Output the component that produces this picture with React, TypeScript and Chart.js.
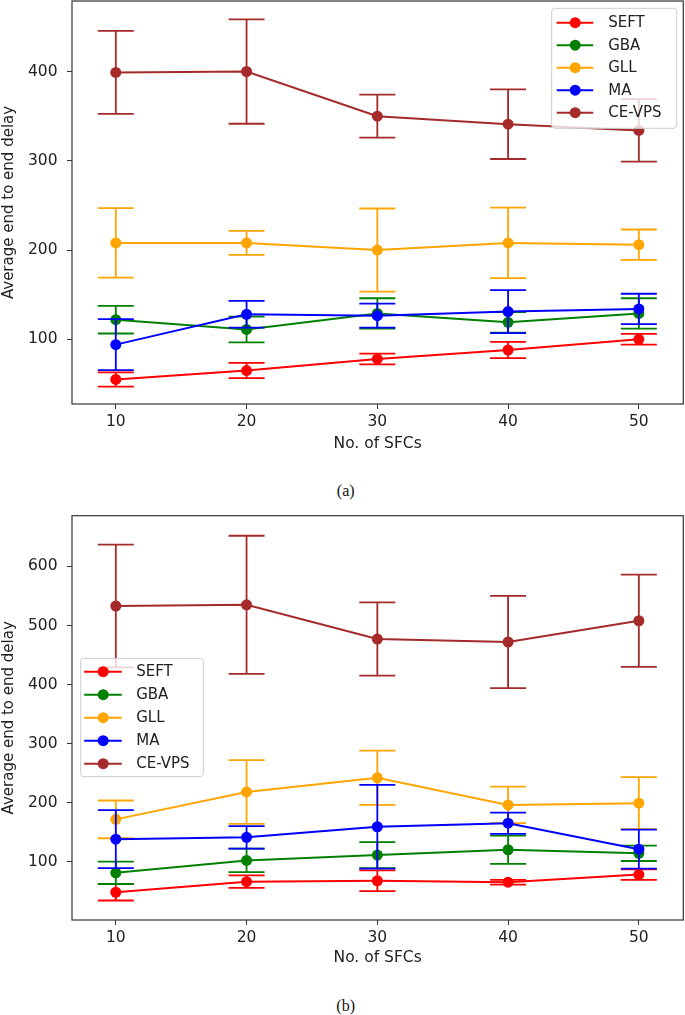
import React, { useEffect, useRef } from "react";
import { Chart, registerables } from "chart.js";

Chart.register(...registerables);

// ---------- data ----------
const sfcCounts = [10, 20, 30, 40, 50];
const seriesNames = ["SEFT", "GBA", "GLL", "MA", "CE-VPS"];
const seriesColors = ["#ff0000", "#008000", "#ffa500", "#0000ff", "#a52a2a"];

const xTickValues = [10, 20, 30, 40, 50];
const yTicksA = [100, 200, 300, 400];
const yTicksB = [100, 200, 300, 400, 500, 600];

// panel (a)
const seftA = [55, 65, 78, 88, 100];
const seftErrA = [8, 8.5, 6, 9, 6];
const gbaA = [122, 111, 129, 119, 129];
const gbaErrA = [15.5, 14.5, 17, 11.5, 17];
const gllA = [208, 208, 200, 208, 206];
const gllErrA = [39, 13.5, 46.5, 39.5, 17];
const maA = [94, 128, 126.5, 131, 134];
const maErrA = [28.5, 15, 13.5, 24, 17];
const cevpsA = [399, 400, 350, 341, 334];
const cevpsErrA = [46.5, 58.5, 24, 39, 35];

// panel (b)
const seftB = [48, 66, 67.5, 65, 78];
const seftErrB = [14, 10.5, 17.5, 4, 9];
const gbaB = [81, 102, 111, 120, 114];
const gbaErrB = [19, 20, 22, 24, 13];
const gllB = [171.5, 218, 242, 196, 199];
const gllErrB = [32, 54, 46, 31, 44];
const maB = [138, 141, 159, 165, 121];
const maErrB = [49, 19, 71, 18, 33];
const cevpsB = [533, 535, 477, 472, 508];
const cevpsErrB = [104, 117, 62, 78, 78];

const xTitle = "No. of SFCs";
const yTitle = "Average end to end delay";

// ---------- plugins ----------
const errorBarPlugin = {
  id: "errorBars",
  beforeDatasetDraw(chart: any, args: any, opts: any) {
    const ds = chart.data.datasets[args.index];
    const errs: number[] = ds.errors || [];
    const xs = chart.scales.x;
    const ys = chart.scales.y;
    const ctx = chart.ctx;
    const area = chart.chartArea;
    ctx.save();
    ctx.beginPath();
    ctx.rect(area.left, area.top, area.right - area.left, area.bottom - area.top);
    ctx.clip();
    ctx.strokeStyle = ds.borderColor;
    ctx.lineWidth = opts.lineWidth;
    ds.data.forEach((p: any, j: number) => {
      const e = errs[j];
      const px = xs.getPixelForValue(p.x);
      const top = ys.getPixelForValue(p.y + e);
      const bot = ys.getPixelForValue(p.y - e);
      ctx.beginPath();
      ctx.moveTo(px, top);
      ctx.lineTo(px, bot);
      ctx.moveTo(px - opts.capHalf, top);
      ctx.lineTo(px + opts.capHalf, top);
      ctx.moveTo(px - opts.capHalf, bot);
      ctx.lineTo(px + opts.capHalf, bot);
      ctx.stroke();
    });
    ctx.restore();
  },
};

const framePlugin = {
  id: "frame",
  afterDatasetsDraw(chart: any, _args: any, opts: any) {
    const { left, top, right, bottom } = chart.chartArea;
    const ctx = chart.ctx;
    ctx.save();
    ctx.strokeStyle = opts.color;
    ctx.lineWidth = opts.lineWidth;
    ctx.strokeRect(left, top, right - left, bottom - top);
    ctx.restore();
  },
};

const boxLegendPlugin = {
  id: "boxLegend",
  afterDraw(chart: any, _args: any, o: any) {
    const ctx = chart.ctx;
    ctx.save();
    const r = 3;
    const { left, top, width, height } = o;
    ctx.beginPath();
    ctx.moveTo(left + r, top);
    ctx.lineTo(left + width - r, top);
    ctx.arcTo(left + width, top, left + width, top + r, r);
    ctx.lineTo(left + width, top + height - r);
    ctx.arcTo(left + width, top + height, left + width - r, top + height, r);
    ctx.lineTo(left + r, top + height);
    ctx.arcTo(left, top + height, left, top + height - r, r);
    ctx.lineTo(left, top + r);
    ctx.arcTo(left, top, left + r, top, r);
    ctx.closePath();
    ctx.fillStyle = "rgba(255,255,255,0.8)";
    ctx.fill();
    ctx.strokeStyle = "#cccccc";
    ctx.lineWidth = 1;
    ctx.stroke();
    ctx.font = `${o.fontSize}px "DejaVu Sans", sans-serif`;
    ctx.textBaseline = "middle";
    ctx.textAlign = "left";
    chart.data.datasets.forEach((ds: any, i: number) => {
      const y = top + o.firstRow + i * o.rowGap;
      ctx.strokeStyle = ds.borderColor;
      ctx.lineWidth = 2;
      ctx.beginPath();
      ctx.moveTo(left + o.lineX0, y);
      ctx.lineTo(left + o.lineX1, y);
      ctx.stroke();
      ctx.fillStyle = ds.borderColor;
      ctx.beginPath();
      ctx.arc(left + o.markerX, y, 5.5, 0, Math.PI * 2);
      ctx.fill();
      ctx.fillStyle = "#222";
      ctx.fillText(ds.label, left + o.textX, y + 0.5);
    });
    ctx.restore();
  },
};

// ---------- chart builder ----------
const FONT = '"DejaVu Sans", sans-serif';

function buildConfig(means: number[][], errs: number[][], yTicks: number[], yMin: number, yMax: number, L: any) {
  return {
    type: "line",
    data: {
      datasets: seriesNames.map((name, i) => ({
        label: name,
        data: sfcCounts.map((x, j) => ({ x, y: means[i][j] })),
        errors: errs[i],
        borderColor: seriesColors[i],
        backgroundColor: seriesColors[i],
        pointBackgroundColor: seriesColors[i],
        pointBorderColor: seriesColors[i],
        pointBorderWidth: 0,
        pointRadius: 5.5,
        borderWidth: 2,
        tension: 0,
        fill: false,
        order: seriesNames.length - 1 - i,
      })),
    },
    options: {
      animation: false,
      responsive: false,
      events: [],
      layout: { autoPadding: false, padding: { top: L.padTop, right: 1.7, left: 0, bottom: 0 } },
      scales: {
        x: {
          type: "linear",
          min: 6.65,
          max: 53.4,
          afterBuildTicks: (s: any) => {
            s.ticks = xTickValues.map((v) => ({ value: v }));
          },
          afterFit: (s: any) => {
            s.height = L.xAxisHeight;
            s.paddingLeft = 0;
            s.paddingRight = 0;
            s.paddingTop = 0;
            s.paddingBottom = 0;
          },
          grid: { drawOnChartArea: false, drawTicks: true, tickLength: 5, color: "#333", lineWidth: 1 },
          border: { display: false },
          ticks: { font: { family: FONT, size: 15.5 }, color: "#222", padding: 4, maxRotation: 0, autoSkip: false },
          title: {
            display: true,
            text: xTitle,
            font: { family: FONT, size: 15.5 },
            color: "#222",
            padding: { top: 0, bottom: L.xTitlePad },
          },
        },
        y: {
          type: "linear",
          min: yMin,
          max: yMax,
          afterBuildTicks: (s: any) => {
            s.ticks = yTicks.map((v) => ({ value: v }));
          },
          afterFit: (s: any) => {
            s.width = 72;
            s.paddingLeft = 0;
            s.paddingRight = 0;
            s.paddingTop = 0;
            s.paddingBottom = 0;
          },
          grid: { drawOnChartArea: false, drawTicks: true, tickLength: 5, color: "#333", lineWidth: 1 },
          border: { display: false },
          ticks: { font: { family: FONT, size: 15.5 }, color: "#222", padding: 9.5 },
          title: {
            display: true,
            text: yTitle,
            font: { family: FONT, size: 15 },
            color: "#222",
            padding: { top: 0, bottom: 0 },
          },
        },
      },
      plugins: {
        legend: { display: false },
        tooltip: { enabled: false },
        errorBars: { capHalf: 18, lineWidth: 1.8 },
        frame: { color: "#333", lineWidth: 1.2 },
        boxLegend: L.legend,
      },
    },
    plugins: [errorBarPlugin, framePlugin, boxLegendPlugin],
  };
}

const layoutA = {
  top: 0,
  height: 462,
  padTop: 1,
  xAxisHeight: 58,
  xTitlePad: 8.5,
  legend: { left: 551.7, top: 8.3, width: 125, height: 120, firstRow: 14.4, rowGap: 22.5, lineX0: 5, lineX1: 41.5, markerX: 23.5, textX: 56.5, fontSize: 15 },
};

const layoutB = {
  top: 500,
  height: 470,
  padTop: 15.7,
  xAxisHeight: 50,
  xTitlePad: 2.5,
  legend: { left: 80.7, top: 158.3, width: 122.6, height: 118.4, firstRow: 13.4, rowGap: 23, lineX0: 3.5, lineX1: 41, markerX: 22.5, textX: 55.5, fontSize: 15 },
};

function ChartPanel({ config, layout }: { config: any; layout: any }) {
  const ref = useRef<HTMLCanvasElement>(null);
  useEffect(() => {
    const chart = new Chart(ref.current as HTMLCanvasElement, config);
    return () => chart.destroy();
  }, []);
  return (
    <div style={{ position: "absolute", left: 0, top: layout.top, width: 685, height: layout.height }}>
      <canvas ref={ref} width={685} height={layout.height} style={{ display: "block" }} />
    </div>
  );
}

const captionStyle = (cy: number): React.CSSProperties => ({
  position: "absolute",
  left: 345.7,
  top: cy,
  transform: "translate(-50%, -50%)",
  fontFamily: '"Liberation Serif", serif',
  fontSize: 16,
  lineHeight: 1,
  color: "#111",
  whiteSpace: "nowrap",
});

export default function App() {
  const configA = buildConfig(
    [seftA, gbaA, gllA, maA, cevpsA],
    [seftErrA, gbaErrA, gllErrA, maErrA, cevpsErrA],
    yTicksA,
    27.5,
    479,
    layoutA
  );
  const configB = buildConfig(
    [seftB, gbaB, gllB, maB, cevpsB],
    [seftErrB, gbaErrB, gllErrB, maErrB, cevpsErrB],
    yTicksB,
    1,
    686,
    layoutB
  );
  return (
    <div style={{ position: "absolute", left: 0, top: 0, width: 685, height: 1015, overflow: "hidden", background: "#fff" }}>
      <ChartPanel config={configA} layout={layoutA} />
      <div style={captionStyle(491)}>(a)</div>
      <ChartPanel config={configB} layout={layoutB} />
      <div style={captionStyle(1006)}>(b)</div>
    </div>
  );
}
